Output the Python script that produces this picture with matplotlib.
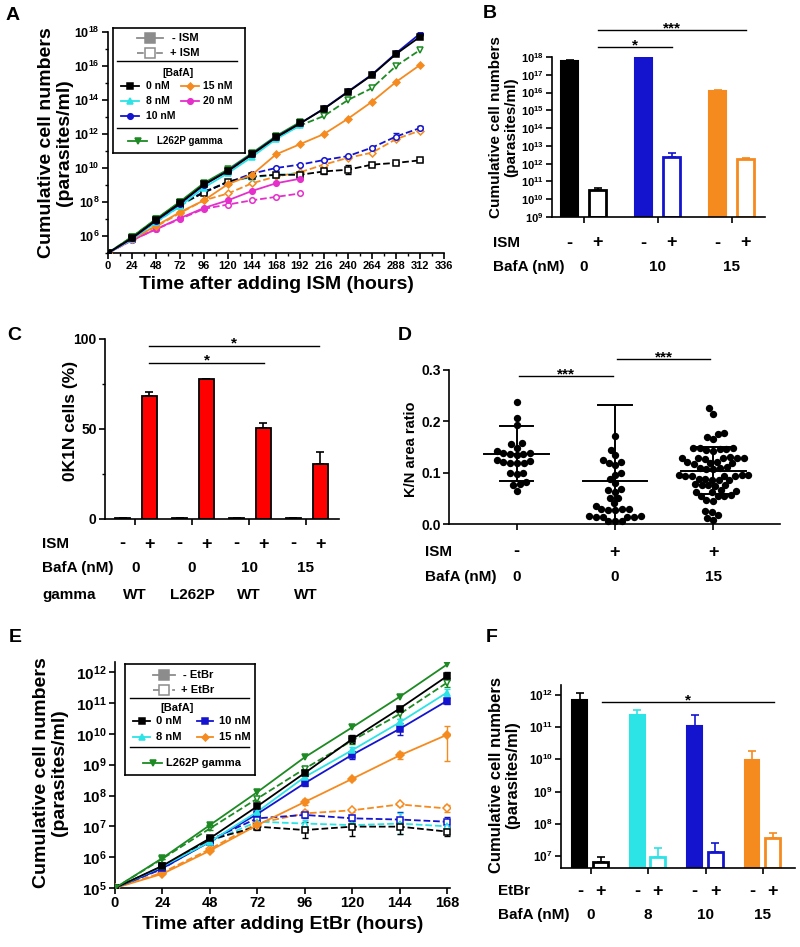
import numpy as np
import matplotlib
matplotlib.use("Agg")
import matplotlib.pyplot as plt
import matplotlib.transforms as mtrans
from matplotlib.ticker import FixedLocator, FuncFormatter, NullFormatter

plt.rcParams['font.family'] = ['Liberation Sans', 'DejaVu Sans']
plt.rcParams['font.weight'] = 'bold'
plt.rcParams['axes.labelweight'] = 'bold'
plt.rcParams['mathtext.fontset'] = 'custom'
plt.rcParams['mathtext.rm'] = 'Liberation Sans:bold'
plt.rcParams['mathtext.bf'] = 'Liberation Sans:bold'
plt.rcParams['mathtext.default'] = 'rm'
plt.rcParams['axes.linewidth'] = 1.2
plt.rcParams['xtick.major.width'] = 1.2
plt.rcParams['ytick.major.width'] = 1.2
plt.rcParams['xtick.minor.width'] = 1.0
plt.rcParams['ytick.minor.width'] = 1.0

BLACK = '#000000'
CYAN = '#2CE3E6'
BLUE = '#1414CF'
ORANGE = '#F58A1F'
MAGENTA = '#E52FCB'
GREEN = '#1D8A23'
RED = '#FF0000'
GREY = '#8C8C8C'

#####################################################################
# data (log10 of cells/ml unless noted)
#####################################################################
hours_A = [0, 24, 48, 72, 96, 120, 144, 168, 192, 216, 240, 264, 288, 312]
A_0_minus = [5.0, 5.88, 6.93, 7.93, 9.03, 9.82, 10.8, 11.8, 12.62, 13.48, 14.47, 15.47, 16.7, 17.72]
A_8_minus = [5.0, 5.8, 6.83, 7.75, 8.85, 9.7, 10.65, 11.7, 12.5]
A_10_minus = [5.0, 5.86, 6.9, 7.9, 9.0, 9.85, 10.82, 11.82, 12.62, 13.5, 14.5, 15.5, 16.75, 17.9]
A_15_minus = [5.0, 5.8, 6.6, 7.4, 8.1, 9.05, 9.6, 10.8, 11.4, 12.0, 12.9, 13.9, 15.06, 16.06]
A_20_minus = [5.0, 5.75, 6.4, 7.05, 7.65, 8.1, 8.65, 9.1, 9.37]
A_L262P_minus = [5.0, 5.95, 7.0, 8.02, 9.12, 9.92, 10.88, 11.88, 12.7]
A_0_plus = [5.0, 5.85, 6.9, 7.85, 8.55, 9.2, 9.5, 9.6, 9.6, 9.8, 9.9, 10.2, 10.3, 10.45]
A_8_plus = [5.0, 5.8, 6.8, 7.75, 8.6, 9.2, 9.45, 9.6, 9.65]
A_10_plus = [5.0, 5.85, 6.88, 7.85, 8.6, 9.15, 9.67, 10.0, 10.2, 10.47, 10.7, 11.2, 11.85, 12.35]
A_15_plus = [5.0, 5.8, 6.55, 7.35, 8.1, 8.5, 9.1, 9.5, 9.75, 10.2, 10.6, 10.9, 11.7, 12.2]
A_20_plus = [5.0, 5.75, 6.4, 7.0, 7.6, 7.85, 8.1, 8.3, 8.5]
A_L262P_plus = [5.0, 5.95, 6.98, 8.0, 9.08, 9.85, 10.8, 11.8, 12.5, 13.06, 14.0, 14.7, 16.0, 16.94]
A_0_plus_err = [0, 0, 0, 0, 0, 0, 0, 0, 0, 0.15, 0.25, 0.05, 0.05, 0.05]
A_10_plus_err = [0, 0, 0, 0, 0, 0, 0, 0, 0, 0, 0, 0, 0.2, 0.1]

groups_B = ['0', '10', '15']
B_minus = [17.78, 17.95, 16.1]
B_minus_err = [0.05, 0.02, 0.03]
B_plus = [10.5, 12.4, 12.25]
B_plus_err = [0.12, 0.2, 0.05]
B_colors = [BLACK, BLUE, ORANGE]

bafa_C = ['0', '0', '10', '15']
gamma_C = ['WT', 'L262P', 'WT', 'WT']
C_minus = [0.5, 0.6, 0.6, 0.6]
C_minus_err = [0.2, 0.2, 0.2, 0.2]
C_plus = [68.5, 77.5, 50.5, 30.8]
C_plus_err = [1.8, 0.5, 3.0, 6.5]

ism_D = ['-', '+', '+']
bafa_D = ['0', '0', '15']
D_ctrl = [0.237, 0.207, 0.193, 0.157, 0.149, 0.156, 0.142, 0.136, 0.137, 0.139, 0.138,
          0.123, 0.119, 0.121, 0.118, 0.119, 0.125, 0.100, 0.099, 0.097, 0.081, 0.076,
          0.077, 0.065, 0.135]
D_ism = [0.171, 0.144, 0.125, 0.134, 0.121, 0.118, 0.114, 0.100, 0.095, 0.087, 0.079,
         0.068, 0.063, 0.066, 0.051, 0.050, 0.036, 0.029, 0.029, 0.027, 0.029, 0.027,
         0.040, 0.016, 0.014, 0.014, 0.014, 0.014, 0.016, 0.006, 0.005, 0.006]
D_baf = [0.225, 0.214, 0.178, 0.170, 0.165, 0.175, 0.147, 0.147, 0.149, 0.149, 0.149,
         0.145, 0.143, 0.129, 0.129, 0.128, 0.128, 0.128, 0.127, 0.130, 0.120, 0.118,
         0.121, 0.119, 0.117, 0.110, 0.108, 0.109, 0.107, 0.111, 0.095, 0.094, 0.094,
         0.093, 0.095, 0.094, 0.096, 0.086, 0.087, 0.085, 0.086, 0.088, 0.076, 0.075,
         0.077, 0.074, 0.076, 0.065, 0.063, 0.055, 0.056, 0.054, 0.055, 0.046, 0.044,
         0.026, 0.024, 0.017, 0.012, 0.007, 0.062, 0.066]
D_mean = [0.136, 0.083, 0.104]
D_sd_lo = [0.083, 0.0, 0.058]
D_sd_hi = [0.190, 0.232, 0.150]

hours_E = [0, 24, 48, 72, 96, 120, 144, 168]
E_0_minus = [5.0, 5.72, 6.61, 7.65, 8.73, 9.83, 10.82, 11.87]
E_8_minus = [5.0, 5.7, 6.5, 7.47, 8.6, 9.47, 10.37, 11.34]
E_10_minus = [5.0, 5.64, 6.5, 7.4, 8.4, 9.32, 10.16, 11.07]
E_15_minus = [5.0, 5.46, 6.21, 7.04, 7.79, 8.54, 9.3, 9.97]
E_L262P_minus = [5.0, 5.97, 7.04, 8.11, 9.24, 10.21, 11.2, 12.25]
E_0_plus = [5.0, 5.7, 6.56, 6.99, 6.88, 6.99, 6.99, 6.83]
E_8_plus = [5.0, 5.65, 6.5, 7.15, 7.09, 7.04, 7.09, 7.0]
E_10_plus = [5.0, 5.62, 6.56, 7.26, 7.37, 7.26, 7.22, 7.15]
E_15_plus = [5.0, 5.5, 6.26, 7.1, 7.42, 7.52, 7.71, 7.58]
E_L262P_plus = [5.0, 5.95, 6.93, 7.9, 8.87, 9.78, 10.64, 11.66]
E_0_minus_err = [0, 0, 0.05, 0.08, 0.1, 0.12, 0.08, 0.12]
E_8_minus_err = [0, 0, 0, 0, 0.05, 0.1, 0.1, 0.1]
E_10_minus_err = [0, 0, 0, 0.05, 0.08, 0.12, 0.2, 0.1]
E_15_minus_err_lo = [0, 0, 0, 0.05, 0.1, 0.05, 0.1, 0.85]
E_15_minus_err_hi = [0, 0, 0, 0.05, 0.1, 0.05, 0.1, 0.3]
E_L262P_plus_err = [0, 0, 0.05, 0.08, 0.1, 0.1, 0.15, 0.15]
E_0_plus_err = [0, 0, 0.05, 0.1, 0.25, 0.3, 0.25, 0.15]
E_8_plus_err = [0, 0, 0, 0.1, 0.1, 0.1, 0.35, 0.25]
E_10_plus_err = [0, 0, 0, 0.1, 0.1, 0.1, 0.25, 0.15]
E_15_plus_err = [0, 0, 0, 0.1, 0.1, 0.05, 0.05, 0.1]

groups_F = ['0', '8', '10', '15']
F_minus = [11.84, 11.38, 11.02, 9.98]
F_minus_err = [0.21, 0.16, 0.34, 0.29]
F_plus = [6.82, 6.98, 7.13, 7.55]
F_plus_err = [0.16, 0.27, 0.27, 0.15]
F_colors = [BLACK, CYAN, BLUE, ORANGE]

#####################################################################
# helpers
#####################################################################
W, H = 800, 947
fig = plt.figure(figsize=(W / 100, H / 100), dpi=100)


def px_rect(l, t, r, b):
    return [l / W, 1 - b / H, (r - l) / W, (b - t) / H]


def fy(y):
    return 1 - y / H


def pow_fmt(v, pos):
    return r'$10^{%d}$' % int(round(np.log10(v)))


def style(ax):
    ax.spines['top'].set_visible(False)
    ax.spines['right'].set_visible(False)
    ax.tick_params(direction='out', length=4)
    ax.tick_params(which='minor', direction='out', length=2.5)


def curve(ax, t, logv, color, marker, dashed, err=None, err_lo=None, err_hi=None, ms=4):
    lv = np.array(logv, dtype=float)
    y = 10 ** lv
    tt = np.array(t[:len(lv)])
    if err is not None:
        err_lo = err_hi = err
    if err_lo is not None:
        lo = y - 10 ** (lv - np.array(err_lo))
        hi = 10 ** (lv + np.array(err_hi)) - y
        ax.errorbar(tt, y, yerr=[lo, hi], fmt='none', ecolor=color, elinewidth=1.0,
                    capsize=2, capthick=1.0, zorder=2)
    ax.plot(tt, y, ls='--' if dashed else '-', color=color, marker=marker,
            mfc='white' if dashed else color, mec=color, ms=ms, mew=1.1, lw=1.3, zorder=3)


def key_box(ax, rect, xr, yr):
    lg = ax.inset_axes(rect)
    lg.set_xlim(*xr)
    lg.set_ylim(yr[1], yr[0])
    lg.set_xticks([])
    lg.set_yticks([])
    for s in lg.spines.values():
        s.set_linewidth(1.2)
    lg.set_zorder(5)
    return lg


def key_row(lg, x0, x1, y, color, marker, text, tx, dashed=False, ms=4, fs=8):
    lg.plot([x0, x1], [y, y], ls='--' if dashed else '-', color=color, lw=1.3)
    lg.plot([(x0 + x1) / 2], [y], marker=marker, ls='none', mec=color,
            mfc='white' if dashed else color, ms=ms, mew=1.1)
    lg.text(tx, y, text, va='center', ha='left', fontsize=fs)


def row_text(ax, xs, labels, y, fs=12):
    tr = mtrans.blended_transform_factory(ax.transData, fig.transFigure)
    for x, s in zip(xs, labels):
        ax.text(x, fy(y), s, transform=tr, ha='center', va='center', fontsize=fs, clip_on=False)


def sig(ax, x0, x1, y, s, fs=11):
    tr = mtrans.blended_transform_factory(ax.transData, fig.transFigure)
    ax.plot([x0, x1], [fy(y), fy(y)], transform=tr, color='black', lw=1.0, clip_on=False)
    ax.text((x0 + x1) / 2, fy(y + 2), s, transform=tr, ha='center', va='baseline',
            fontsize=fs, clip_on=False)


def swarm_x(vals, xc, sx, sy, d):
    pts = []
    xs = np.zeros(len(vals))
    for i in np.argsort(vals):
        py = vals[i] * sy
        cands = [0.0]
        blocks = []
        for qx, qy in pts:
            dy = py - qy
            if abs(dy) < d:
                w = np.sqrt(d * d - dy * dy)
                blocks.append((qx - w, qx + w))
                cands += [qx - w, qx + w]
        cands.sort(key=abs)
        for c in cands:
            if all(not (lo + 1e-6 < c < hi - 1e-6) for lo, hi in blocks):
                break
        pts.append((c, py))
        xs[i] = xc + c / sx
    return xs


#####################################################################
# A
#####################################################################
axA = fig.add_axes(px_rect(108, 32, 444, 253))
style(axA)
axA.set_yscale('log')
axA.set_xlim(0, 336)
axA.set_ylim(1e5, 1e18)
axA.xaxis.set_major_locator(FixedLocator(list(range(0, 337, 24))))
axA.xaxis.set_minor_locator(FixedLocator(list(range(12, 337, 24))))
axA.yaxis.set_major_locator(FixedLocator([10.0 ** k for k in range(6, 19, 2)]))
axA.yaxis.set_minor_locator(FixedLocator([10.0 ** k for k in range(5, 18, 2)]))
axA.yaxis.set_major_formatter(FuncFormatter(pow_fmt))
axA.yaxis.set_minor_formatter(NullFormatter())
axA.tick_params(axis='x', labelsize=8, pad=2)
axA.tick_params(axis='y', labelsize=9, pad=2)

curve(axA, hours_A, A_20_plus, MAGENTA, 'o', True)
curve(axA, hours_A, A_15_plus, ORANGE, 'D', True, ms=3.5)
curve(axA, hours_A, A_8_plus, CYAN, '^', True)
curve(axA, hours_A, A_10_plus, BLUE, 'o', True, err=A_10_plus_err)
curve(axA, hours_A, A_0_plus, BLACK, 's', True, err=A_0_plus_err)
curve(axA, hours_A, A_L262P_plus, GREEN, 'v', True)
curve(axA, hours_A, A_20_minus, MAGENTA, 'o', False)
curve(axA, hours_A, A_15_minus, ORANGE, 'D', False, ms=3.5)
curve(axA, hours_A, A_L262P_minus, GREEN, 'v', False)
curve(axA, hours_A, A_8_minus, CYAN, '^', False)
curve(axA, hours_A, A_10_minus, BLUE, 'o', False)
curve(axA, hours_A, A_0_minus, BLACK, 's', False)

axA.set_xlabel('Time after adding ISM (hours)', fontsize=14)
axA.xaxis.set_label_coords(0.5, -0.105)
axA.set_ylabel('Cumulative cell numbers\n(parasites/ml)', fontsize=14, linespacing=1.1)
axA.yaxis.set_label_coords(-0.104, 0.5)

lgA = key_box(axA, [5 / 336, 100 / 221, 132 / 336, 125 / 221], (113, 245), (28, 153))
key_row(lgA, 137, 163, 38, GREY, 's', '- ISM', 172, ms=7, fs=8)
key_row(lgA, 137, 163, 53, GREY, 's', '+ ISM', 170, dashed=True, ms=7, fs=8)
lgA.plot([117, 237], [61, 61], color='black', lw=1.0)
lgA.text(178, 73, '[BafA]', ha='center', va='center', fontsize=7.5)
key_row(lgA, 121, 139, 86, BLACK, 's', '0 nM', 146, fs=7.5)
key_row(lgA, 181, 199, 86, ORANGE, 'D', '15 nM', 203, ms=3.5, fs=7.5)
key_row(lgA, 121, 139, 101, CYAN, '^', '8 nM', 146, fs=7.5)
key_row(lgA, 181, 199, 101, MAGENTA, 'o', '20 nM', 203, fs=7.5)
key_row(lgA, 121, 139, 116, BLUE, 'o', '10 nM', 146, fs=7.5)
lgA.plot([117, 237], [128, 128], color='black', lw=1.0)
key_row(lgA, 128, 147, 141, GREEN, 'v', 'L262P gamma', 157, fs=7)

#####################################################################
# B
#####################################################################
axB = fig.add_axes(px_rect(552, 57, 765, 217))
style(axB)
axB.set_yscale('log')
axB.set_ylim(1e9, 1e18)
axB.set_xlim(-0.43, 2.45)
xB = np.arange(len(groups_B))
bw = 0.23
for i, c in enumerate(B_colors):
    top = 10 ** B_minus[i]
    axB.bar(xB[i] - 0.19, top - 1e9, bottom=1e9, width=bw, color=c, edgecolor=c, lw=1.5)
    axB.errorbar(xB[i] - 0.19, top, yerr=[[0], [10 ** (B_minus[i] + B_minus_err[i]) - top]],
                 fmt='none', ecolor=c, elinewidth=1.2, capsize=3, capthick=1.2)
    top = 10 ** B_plus[i]
    axB.bar(xB[i] + 0.19, top - 1e9, bottom=1e9, width=bw, color='white', edgecolor=c, lw=2)
    axB.errorbar(xB[i] + 0.19, top, yerr=[[0], [10 ** (B_plus[i] + B_plus_err[i]) - top]],
                 fmt='none', ecolor=c, elinewidth=1.2, capsize=3, capthick=1.2)
axB.set_xticks(xB)
axB.set_xticklabels([])
axB.yaxis.set_major_locator(FixedLocator([10.0 ** k for k in range(9, 19)]))
axB.yaxis.set_minor_locator(FixedLocator([]))
axB.yaxis.set_major_formatter(FuncFormatter(pow_fmt))
axB.tick_params(axis='y', labelsize=8, pad=2)
axB.set_ylabel('Cumulative cell numbers\n(parasites/ml)', fontsize=11, linespacing=1.1)
axB.yaxis.set_label_coords(-0.16, 0.56)
fig.text(493 / W, fy(243), 'ISM', ha='left', va='center', fontsize=11)
fig.text(493 / W, fy(267), 'BafA (nM)', ha='left', va='center', fontsize=11)
row_text(axB, np.r_[xB - 0.19, xB + 0.19], ['-'] * 3 + ['+'] * 3, 243, fs=13)
row_text(axB, xB, groups_B, 267, fs=11)
sig(axB, 0.19, 2.19, 30, '***')
sig(axB, 0.19, 1.19, 47, '*')

#####################################################################
# C
#####################################################################
axC = fig.add_axes(px_rect(105, 339, 339, 519))
style(axC)
axC.set_ylim(0, 100)
axC.set_xlim(-0.53, 3.58)
xC = np.arange(len(bafa_C))
for i in range(len(xC)):
    axC.bar(xC[i] - 0.22, C_minus[i], width=0.27, color=RED, edgecolor='black', lw=1.3)
    axC.errorbar(xC[i] - 0.22, C_minus[i], yerr=[[0], [C_minus_err[i]]], fmt='none',
                 ecolor='black', elinewidth=1.2, capsize=3, capthick=1.2)
    axC.bar(xC[i] + 0.25, C_plus[i], width=0.27, color=RED, edgecolor='black', lw=1.3)
    axC.errorbar(xC[i] + 0.25, C_plus[i], yerr=[[0], [C_plus_err[i]]], fmt='none',
                 ecolor='black', elinewidth=1.2, capsize=3, capthick=1.2)
axC.set_xticks(xC)
axC.set_xticklabels([])
axC.set_yticks([0, 50, 100])
axC.yaxis.set_minor_locator(FixedLocator([25, 75]))
axC.tick_params(axis='y', labelsize=10, pad=2)
axC.set_ylabel('0K1N cells (%)', fontsize=12.5)
axC.yaxis.set_label_coords(-0.115, 0.544)
fig.text(42 / W, fy(544), 'ISM', ha='left', va='center', fontsize=11)
fig.text(42 / W, fy(568), 'BafA (nM)', ha='left', va='center', fontsize=11)
fig.text(42 / W, fy(595), 'gamma', ha='left', va='center', fontsize=11)
row_text(axC, np.r_[xC - 0.22, xC + 0.25], ['-'] * 4 + ['+'] * 4, 544, fs=13)
row_text(axC, xC, bafa_C, 568, fs=11)
row_text(axC, xC, gamma_C, 595, fs=11)
sig(axC, 0.25, 3.22, 345.7, '*')
sig(axC, 0.25, 2.26, 362.7, '*')

#####################################################################
# D
#####################################################################
axD = fig.add_axes(px_rect(449, 370, 780, 524))
style(axD)
axD.set_ylim(0, 0.3)
axD.set_xlim(-0.69, 2.68)
posD = axD.get_position()
sxD = posD.width * W / (2.68 + 0.69)
syD = posD.height * H / 0.3
for i, vals in enumerate([D_ctrl, D_ism, D_baf]):
    v = np.array(vals)
    xs = swarm_x(v, i, sxD, syD, 6.8)
    axD.scatter(xs, v, s=28, color='black', zorder=3, clip_on=False, linewidths=0)
    axD.plot([i - 0.33, i + 0.33], [D_mean[i], D_mean[i]], color='black', lw=1.4, zorder=4)
    axD.plot([i, i], [D_sd_lo[i], D_sd_hi[i]], color='black', lw=1.4, zorder=4)
    axD.plot([i - 0.17, i + 0.17], [D_sd_hi[i], D_sd_hi[i]], color='black', lw=1.4, zorder=4)
    if D_sd_lo[i] > 0:
        axD.plot([i - 0.17, i + 0.17], [D_sd_lo[i], D_sd_lo[i]], color='black', lw=1.4, zorder=4)
axD.set_xticks([0, 1, 2])
axD.set_xticklabels([])
axD.set_yticks([0.0, 0.1, 0.2, 0.3])
axD.set_yticklabels(['0.0', '0.1', '0.2', '0.3'])
axD.tick_params(axis='y', labelsize=10, pad=2)
axD.set_ylabel('K/N area ratio', fontsize=10.5)
axD.yaxis.set_label_coords(-0.094, 0.487)
fig.text(425 / W, fy(552), 'ISM', ha='left', va='center', fontsize=11)
fig.text(425 / W, fy(577), 'BafA (nM)', ha='left', va='center', fontsize=11)
row_text(axD, [0, 1, 2], ism_D, 552, fs=13)
row_text(axD, [0, 1, 2], bafa_D, 577, fs=11)
sig(axD, 0.02, 0.98, 376, '***')
sig(axD, 1.02, 1.97, 359, '***')

#####################################################################
# E
#####################################################################
axE = fig.add_axes(px_rect(115, 662, 450, 888))
style(axE)
axE.set_yscale('log')
axE.set_xlim(0, 169.5)
axE.set_ylim(1e5, 10 ** 12.33)
axE.set_xticks(list(range(0, 169, 24)))
axE.yaxis.set_major_locator(FixedLocator([10.0 ** k for k in range(5, 13)]))
axE.yaxis.set_minor_locator(FixedLocator([]))
axE.yaxis.set_major_formatter(FuncFormatter(pow_fmt))
axE.tick_params(axis='x', labelsize=10.5, pad=2)
axE.tick_params(axis='y', labelsize=11, pad=2)

curve(axE, hours_E, E_15_plus, ORANGE, 'D', True, err=E_15_plus_err, ms=4)
curve(axE, hours_E, E_10_plus, BLUE, 's', True, err=E_10_plus_err)
curve(axE, hours_E, E_8_plus, CYAN, '^', True, err=E_8_plus_err)
curve(axE, hours_E, E_0_plus, BLACK, 's', True, err=E_0_plus_err)
curve(axE, hours_E, E_L262P_plus, GREEN, 'v', True, err=E_L262P_plus_err, ms=5)
curve(axE, hours_E, E_15_minus, ORANGE, 'D', False, err_lo=E_15_minus_err_lo,
      err_hi=E_15_minus_err_hi, ms=4)
curve(axE, hours_E, E_10_minus, BLUE, 's', False, err=E_10_minus_err)
curve(axE, hours_E, E_8_minus, CYAN, '^', False, err=E_8_minus_err)
curve(axE, hours_E, E_0_minus, BLACK, 's', False, err=E_0_minus_err)
curve(axE, hours_E, E_L262P_minus, GREEN, 'v', False, ms=5)

axE.set_xlabel('Time after adding EtBr (hours)', fontsize=14)
axE.xaxis.set_label_coords(0.5, -0.125)
axE.set_ylabel('Cumulative cell numbers\n(parasites/ml)', fontsize=14, linespacing=1.1)
axE.yaxis.set_label_coords(-0.14, 0.509)

lgE = key_box(axE, [10 / 335, 113 / 226, 130 / 335, 111 / 226], (125, 255), (664, 775))
key_row(lgE, 153, 175, 675, GREY, 's', '- EtBr', 183, ms=7)
key_row(lgE, 153, 175, 690, GREY, 's', '+ EtBr', 181, dashed=True, ms=7)
lgE.plot([130, 249], [698, 698], color='black', lw=1.0)
lgE.text(177, 708, '[BafA]', ha='center', va='center', fontsize=8)
key_row(lgE, 133, 150, 721, BLACK, 's', '0 nM', 156)
key_row(lgE, 197, 213, 721, BLUE, 's', '10 nM', 219)
key_row(lgE, 133, 150, 737, CYAN, '^', '8 nM', 156)
key_row(lgE, 197, 213, 737, ORANGE, 'D', '15 nM', 219, ms=3.5)
lgE.plot([130, 249], [747, 747], color='black', lw=1.0)
key_row(lgE, 143, 162, 763, GREEN, 'v', 'L262P gamma', 166)

#####################################################################
# F
#####################################################################
axF = fig.add_axes(px_rect(561, 685, 795, 868))
style(axF)
axF.set_yscale('log')
yF0 = 10 ** 6.63
axF.set_ylim(yF0, 10 ** 12.3)
axF.set_xlim(-0.52, 3.56)
xF = np.arange(len(groups_F))
for i, c in enumerate(F_colors):
    top = 10 ** F_minus[i]
    axF.bar(xF[i] - 0.19, top - yF0, bottom=yF0, width=0.26, color=c, edgecolor=c, lw=1.5)
    axF.errorbar(xF[i] - 0.19, top, yerr=[[0], [10 ** (F_minus[i] + F_minus_err[i]) - top]],
                 fmt='none', ecolor=c, elinewidth=1.2, capsize=3, capthick=1.2)
    top = 10 ** F_plus[i]
    axF.bar(xF[i] + 0.17, top - yF0, bottom=yF0, width=0.26, color='white', edgecolor=c, lw=2)
    axF.errorbar(xF[i] + 0.17, top, yerr=[[0], [10 ** (F_plus[i] + F_plus_err[i]) - top]],
                 fmt='none', ecolor=c, elinewidth=1.2, capsize=3, capthick=1.2)
axF.set_xticks(xF)
axF.set_xticklabels([])
axF.yaxis.set_major_locator(FixedLocator([10.0 ** k for k in range(7, 13)]))
axF.yaxis.set_minor_locator(FixedLocator([]))
axF.yaxis.set_major_formatter(FuncFormatter(pow_fmt))
axF.tick_params(axis='y', labelsize=8.5, pad=2)
axF.set_ylabel('Cumulative cell numbers\n(parasites/ml)', fontsize=12, linespacing=1.1)
axF.yaxis.set_label_coords(-0.175, 0.508)
fig.text(498 / W, fy(891), 'EtBr', ha='left', va='center', fontsize=11)
fig.text(498 / W, fy(915), 'BafA (nM)', ha='left', va='center', fontsize=11)
row_text(axF, np.r_[xF - 0.19, xF + 0.17], ['-'] * 4 + ['+'] * 4, 891, fs=13)
row_text(axF, xF, groups_F, 915, fs=11)
sig(axF, 0.19, 3.19, 702, '*')

#####################################################################
# panel letters
#####################################################################
for s, x, y in [('A', 13, 15), ('B', 490, 13), ('C', 14, 335), ('D', 405, 335),
                ('E', 15, 638), ('F', 492, 638)]:
    fig.text(x / W, fy(y), s, ha='center', va='center', fontsize=14)

fig.savefig('out.png', dpi=100)
